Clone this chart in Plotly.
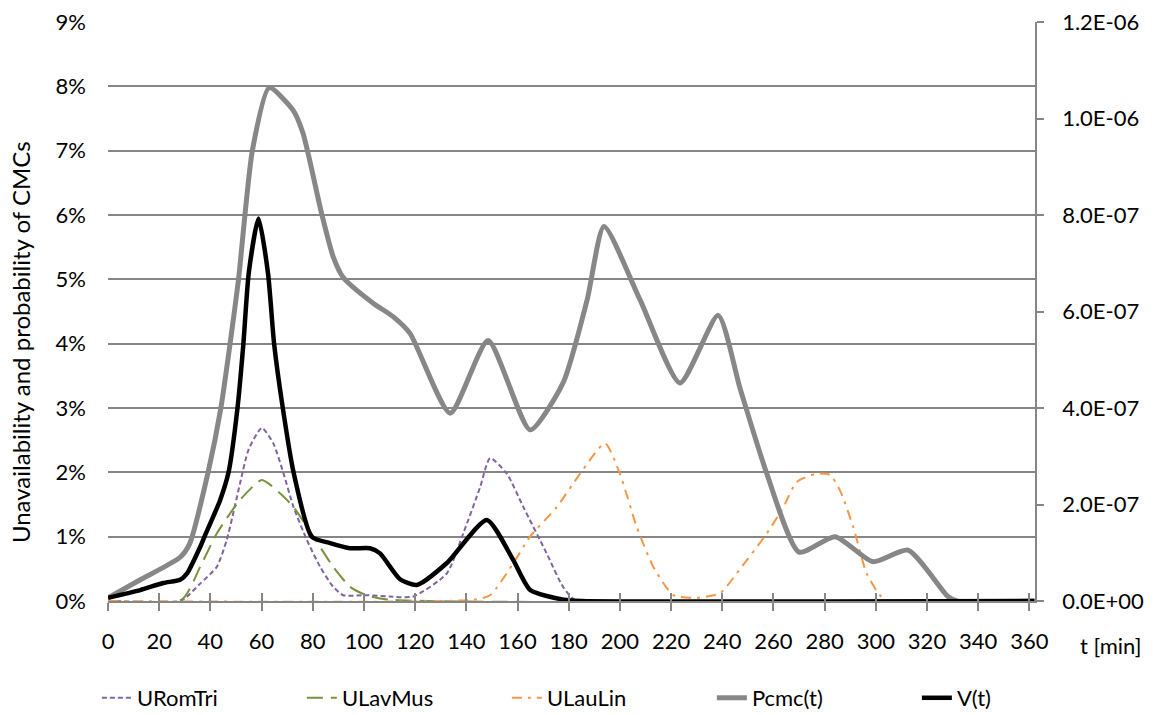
import plotly.graph_objects as go

# ---- data ----
t_pcmc = [0, 12.6, 28.2, 32, 39.1, 44.1, 47.7, 51, 56.4, 63, 72.3, 76.2,
          83.6, 88, 91.9, 103.6, 111.4, 118, 133.7, 148.5, 164.9, 177.8, 187.2, 193.8, 207.9,
          223.5, 238.4, 247, 257.4, 270, 284.1, 298.9, 312.6, 328.2, 331.7, 362]
pcmc = [0.05, 0.33, 0.68, 0.9, 2.0, 3.0, 4.0, 5.0, 7.0, 7.98, 7.63, 7.27,
        6.0, 5.35, 5.03, 4.63, 4.42, 4.16, 2.92, 4.05, 2.66, 3.39, 4.68, 5.82, 4.68,
        3.39, 4.44, 3.3, 1.98, 0.76, 1.0, 0.61, 0.79, 0.07, 0.0, 0.0]

t_v = [0, 12.6, 21.6, 28.2, 30.9, 36, 37.7, 43.8, 47.1, 50.6, 52.9, 55, 58.8, 62.5, 64.9, 68.3,
       72.5, 79.6, 86.8, 94.6, 102.4, 106.3, 114.1, 120.7, 132.4, 148, 158.3, 165, 178, 185, 362]
v = [0.067e-7, 0.227e-7, 0.373e-7, 0.44e-7, 0.573e-7, 1.12e-7, 1.333e-7, 2.09e-7, 2.667e-7,
     4.0e-7, 5.333e-7, 6.8e-7, 7.93e-7, 6.8e-7, 5.333e-7, 4.0e-7, 2.667e-7, 1.333e-7,
     1.2e-7, 1.093e-7, 1.093e-7, 0.987e-7, 0.45e-7, 0.333e-7, 0.787e-7, 1.68e-7, 0.853e-7,
     0.227e-7, 0.027e-7, 0.0, 0.0]

t_rom = [0, 28.2, 30.9, 36, 42.5, 46.4, 51.6, 54.9, 60.1, 64.6, 68.6, 72.5, 77.7, 82.9, 88,
         91.9, 101, 110, 119.3, 132.4, 138.8, 145.4, 149.3, 155.8, 162.3, 171.4, 177.8, 183.2, 360]
urom = [0.0, 0.0, 0.07, 0.27, 0.53, 0.95, 1.83, 2.35, 2.69, 2.45, 1.98, 1.46, 0.95, 0.53, 0.22,
        0.09, 0.09, 0.07, 0.07, 0.43, 1.05, 1.77, 2.22, 1.98, 1.46, 0.74, 0.22, 0.0, 0.0]

t_lav = [0, 28.8, 36, 42.5, 51.6, 60.1, 67.3, 72.5, 80.3, 88, 94.6, 101, 110, 360]
ulav = [0.0, 0.02, 0.53, 1.05, 1.57, 1.88, 1.67, 1.46, 1.0, 0.53, 0.22, 0.09, 0.02, 0.0]

t_lau = [0, 142.7, 149.3, 158.4, 164.9, 175.3, 184.5, 194.2, 200, 206.6, 213.1, 220.9, 230,
         239.1, 247, 257.4, 263.9, 269.1, 276.9, 282.1, 286, 291.2, 296.4, 301.6, 305, 360]
ulau = [0.0, 0.02, 0.09, 0.59, 1.0, 1.46, 1.98, 2.45, 1.98, 1.15, 0.53, 0.09, 0.05,
        0.12, 0.5, 1.05, 1.46, 1.85, 1.98, 1.96, 1.72, 1.15, 0.43, 0.09, 0.0, 0.0]

x_ticks = list(range(0, 361, 20))
y2_vals = [0, 2e-7, 4e-7, 6e-7, 8e-7, 1.0e-6, 1.2e-6]
y2_text = ["0.0E+00", "2.0E-07", "4.0E-07", "6.0E-07", "8.0E-07", "1.0E-06", "1.2E-06"]

FONT = "Lato, 'Open Sans', sans-serif"
GRID = "#868686"
FS = 22
sm = 0.6

fig = go.Figure()
fig.add_trace(go.Scatter(x=t_rom, y=urom, name="URomTri", mode="lines",
                         line=dict(color="#8064a2", width=2, dash="5px,3px", shape="spline", smoothing=sm)))
fig.add_trace(go.Scatter(x=t_lav, y=ulav, name="ULavMus", mode="lines",
                         line=dict(color="#77933c", width=2, dash="16px,8px", shape="spline", smoothing=sm)))
fig.add_trace(go.Scatter(x=t_lau, y=ulau, name="ULauLin", mode="lines",
                         line=dict(color="#f79646", width=2, dash="10px,6px,3px,6px", shape="spline", smoothing=sm)))
fig.add_trace(go.Scatter(x=t_pcmc, y=pcmc, name="Pcmc(t)", mode="lines",
                         line=dict(color="#878787", width=5, shape="spline", smoothing=sm)))
fig.add_trace(go.Scatter(x=t_v, y=v, name="V(t)", mode="lines", yaxis="y2",
                         line=dict(color="#000000", width=4.5, shape="spline", smoothing=sm)))

XR = [0, 362.2]
fig.update_layout(
    width=1156, height=715,
    margin=dict(l=108, r=121, t=22, b=114, autoexpand=False),
    paper_bgcolor="white", plot_bgcolor="white",
    font=dict(family=FONT, size=FS, color="#000000"),
    showlegend=True,
    legend=dict(orientation="h", x=-0.012, y=-0.1675, xanchor="left", yanchor="middle",
                font=dict(size=FS), entrywidth=160, entrywidthmode="pixels",
                bgcolor="rgba(0,0,0,0)"),
    xaxis=dict(range=XR, tickvals=x_ticks, ticks="outside", ticklen=8, tickcolor=GRID,
               tickwidth=1.5, showgrid=False, showline=True, linecolor=GRID, linewidth=1.5,
               zeroline=False, tickfont=dict(size=FS), anchor="y", ticklabelstandoff=12),
    xaxis2=dict(range=XR, tickvals=x_ticks, ticks="inside", ticklen=8, tickcolor=GRID,
                tickwidth=1.5, showticklabels=False, showgrid=False, showline=False,
                overlaying="x", anchor="y", zeroline=False),
    yaxis=dict(range=[0, 9], dtick=1, ticksuffix="%", showgrid=True, gridcolor=GRID,
               gridwidth=1.5, zeroline=False, showline=False, ticks="", tickfont=dict(size=FS),
               ticklabelstandoff=21),
    yaxis2=dict(range=[0, 1.2e-6], tickvals=y2_vals, ticktext=y2_text, overlaying="y",
                side="right", showgrid=False, showline=True, linecolor=GRID, linewidth=1.5,
                ticks="outside", ticklen=7, tickcolor=GRID, tickwidth=1.5, zeroline=False,
                tickfont=dict(size=FS), ticklabelstandoff=14),
    annotations=[
        dict(text="t [min]", xref="paper", yref="paper", x=1.081, y=-0.076,
             xanchor="center", yanchor="middle", showarrow=False, font=dict(size=FS)),
        dict(text="Unavailability and probability of CMCs", xref="paper", yref="paper",
             x=-0.095, y=0.447, textangle=-90, xanchor="center", yanchor="middle",
             showarrow=False, font=dict(size=24)),
    ],
)
# invisible trace to activate the crossing tick overlay on x
fig.add_trace(go.Scatter(x=[0], y=[0], xaxis="x2", mode="lines", showlegend=False,
                         hoverinfo="skip", line=dict(width=0)))

fig.write_html("out.html")
